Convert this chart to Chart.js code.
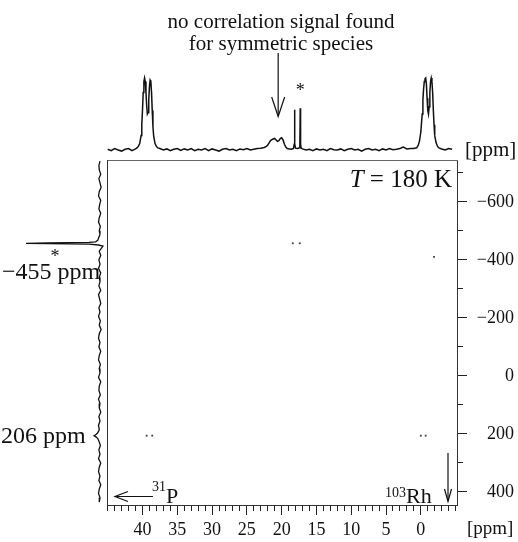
<!DOCTYPE html>
<html><head><meta charset="utf-8">
<script src="https://cdn.jsdelivr.net/npm/chart.js@4.4.0/dist/chart.umd.min.js"></script>
<style>html,body{margin:0;padding:0;background:#fff}#wrap{width:518px;height:542px;position:relative}</style>
</head><body><div id="wrap"><canvas id="c"></canvas></div>
<script>
// ---- 31P projection (top trace): chemical shift [ppm] and relative intensity ----
const topPpm = [45,44.5,44,43.5,43,42.5,42,41.5,41,40.8,
  40.6,40.4,40.2,40.1,40,39.9,39.8,39.7,39.6,39.5,
  39.4,39.3,39.2,39.1,39,38.9,38.8,38.7,38.6,38.5,
  38.4,38.2,38,37.8,37.5,37,36.5,36,35.5,35,
  34.5,34,33.5,33,32.5,32,31.5,31,30.5,30,
  29.5,29,28.5,28,27.5,27,26.5,26,25.5,25,
  24.5,24,23.5,23,22.5,22.2,22,21.8,21.6,21.3,
  21,20.8,20.6,20.4,20.2,20,19.8,19.6,19.4,19.2,
  18.9,18.6,18.3,18.2,18.15,18.1,18,17.7,17.45,17.38,
  17.33,17.28,17.2,17,16.5,16,15.5,15,14.5,14,
  13.5,13,12.5,12,11.5,11,10.5,10,9.5,9,
  8.5,8,7.5,7,6.5,6,5.5,5,4.5,4,
  3.5,3,2.7,2.5,2.3,2,1.5,1,0.6,0.4,
  0.2,0,-0.2,-0.3,-0.4,-0.5,-0.6,-0.7,-0.8,-0.9,
  -1,-1.1,-1.2,-1.3,-1.4,-1.5,-1.6,-1.7,-1.8,-1.9,
  -2,-2.2,-2.4,-2.6,-3,-3.5,-4,-4.5];
const topInt = [0.01,-0.01,0.02,0.0,-0.015,0.01,0.02,-0.01,0.015,0.03,
  0.05,0.09,0.2,0.35,0.55,0.8,0.95,1.0,0.95,0.8,
  0.62,0.5,0.52,0.7,0.88,0.97,0.95,0.8,0.55,0.33,
  0.2,0.09,0.05,0.03,0.02,0.0,0.015,-0.01,0.01,0.02,
  -0.005,0.015,0.0,0.02,-0.01,0.01,0.0,0.02,-0.01,0.015,
  0.0,-0.015,0.01,0.02,0.0,0.01,-0.01,0.015,0.005,0.02,
  0.0,0.01,0.02,0.025,0.035,0.05,0.07,0.1,0.13,0.15,
  0.16,0.14,0.12,0.13,0.16,0.17,0.14,0.08,0.04,0.02,
  0.015,0.01,0.02,0.08,0.56,0.08,0.025,0.02,0.03,0.08,
  0.58,0.08,0.025,0.015,0.0,0.01,-0.01,0.015,0.0,0.01,
  -0.01,0.02,0.005,0.0,0.015,-0.01,0.01,0.02,0.0,0.01,
  -0.015,0.01,0.02,0.0,0.01,-0.01,0.015,0.0,0.02,0.005,
  0.01,0.02,0.035,0.04,0.03,0.015,0.02,0.02,0.03,0.06,
  0.12,0.25,0.5,0.7,0.85,0.95,0.99,1.0,0.92,0.72,
  0.55,0.5,0.6,0.8,0.95,1.0,0.95,0.8,0.55,0.35,
  0.2,0.1,0.05,0.03,0.015,0.0,0.02,0.01];

// ---- 103Rh projection (left trace): chemical shift [ppm] and relative intensity ----
const leftRh = [-740,-725,-710,-695,-680,-665,-650,-635,-620,-605,-590,-575,
  -560,-545,-530,-515,-500,-487,-475,-467,-462,-460,
  -458,-457,-456,-454,-451,-447,-440,-430,-415,-400,
  -385,-370,-355,-340,-325,-310,-295,-280,-265,-250,
  -235,-220,-205,-190,-175,-160,-145,-130,-115,-100,
  -85,-70,-55,-40,-25,-10,5,20,35,50,
  65,80,95,110,125,140,155,170,185,196,
  201,206,211,216,228,240,255,270,285,300,
  315,330,345,360,375,390,405,420,435];
const leftInt = [0.0,0.015,0.01,-0.01,0.015,0.0,-0.015,0.01,0.02,-0.01,0.005,0.015,
  -0.01,0.01,0.02,-0.005,0.01,0.0,0.02,0.03,0.06,0.15,
  0.7,1.0,0.7,0.15,0.02,-0.04,-0.02,0.01,-0.01,0.015,
  0.0,0.02,-0.01,0.01,0.0,0.015,-0.01,0.02,0.005,-0.01,
  0.015,0.0,0.02,-0.005,0.01,-0.015,0.01,0.02,0.0,0.015,
  -0.01,0.01,0.02,-0.005,0.01,0.0,0.02,-0.01,0.01,0.015,
  -0.005,0.02,0.0,0.01,-0.01,0.015,0.0,0.02,0.01,0.03,
  0.05,0.08,0.05,0.03,0.01,-0.005,0.015,0.0,0.02,-0.01,
  0.01,0.02,0.0,0.015,-0.01,0.01,0.02,0.0,0.01];

// ---- 2D cross peaks (31P ppm, 103Rh ppm) ----
const crossP  = [18.4, 17.4, 39.4, 38.6, 0.0, -0.7, -1.9];
const crossRh = [-457, -457, 206, 206, 206, 206, -410];

// ---- axis tick labels ----
const xTickLabels = [40, 35, 30, 25, 20, 15, 10, 5, 0];
const yTickLabels = [-600, -400, -200, 0, 200, 400];

const SERIF = '"Liberation Serif", "DejaVu Serif", serif';
const INK = '#111';

const pts = (xs, ys) => xs.map((v, i) => ({x: v, y: ys[i]}));
const fmt = v => (v < 0 ? '\u2212' + Math.abs(v) : String(v));

const annot = {
  id: 'annot',
  afterDraw(chart) {
    const ctx = chart.ctx, xs = chart.scales.x;
    ctx.save();
    ctx.fillStyle = INK; ctx.strokeStyle = INK; ctx.lineWidth = 1.2;
    // title
    ctx.textAlign = 'center'; ctx.textBaseline = 'middle';
    ctx.font = '21px ' + SERIF;
    ctx.fillText('no correlation signal found', 281, 22);
    ctx.fillText('for symmetric species', 281, 44);
    // arrow to the symmetric species
    const ax = xs.getPixelForValue(20.5);
    ctx.beginPath(); ctx.moveTo(ax, 53); ctx.lineTo(ax, 116); ctx.stroke();
    ctx.beginPath(); ctx.moveTo(ax - 6.5, 97); ctx.lineTo(ax, 116.5); ctx.lineTo(ax + 6.5, 97); ctx.stroke();
    // asterisks
    ctx.textBaseline = 'alphabetic';
    ctx.font = '18px ' + SERIF;
    ctx.fillText('*', xs.getPixelForValue(17.33), 96);
    ctx.fillText('*', 55, 262);
    // [ppm] labels
    ctx.textAlign = 'left'; ctx.textBaseline = 'middle';
    ctx.font = '21px ' + SERIF;
    ctx.fillText('[ppm]', 465, 150);
    ctx.font = '19px ' + SERIF;
    ctx.fillText('[ppm]', 467, 529);
    // Rh shift labels
    ctx.textBaseline = 'alphabetic';
    ctx.font = '24px ' + SERIF;
    ctx.fillText('\u2212455 ppm', 2, 279);
    ctx.fillText('206 ppm', 1, 443);
    // T = 180 K
    ctx.font = 'italic 25px ' + SERIF;
    const wT = ctx.measureText('T').width;
    ctx.font = '25px ' + SERIF;
    const rest = ' = 180 K';
    const wR = ctx.measureText(rest).width;
    const tx = 452 - wT - wR;
    ctx.font = 'italic 25px ' + SERIF; ctx.fillText('T', tx, 187);
    ctx.font = '25px ' + SERIF; ctx.fillText(rest, tx + wT, 187);
    // 31P arrow
    ctx.beginPath(); ctx.moveTo(115, 496.5); ctx.lineTo(153, 496.5); ctx.stroke();
    ctx.beginPath(); ctx.moveTo(128, 491.5); ctx.lineTo(115, 496.5); ctx.lineTo(128, 501.5); ctx.stroke();
    ctx.font = '14px ' + SERIF; ctx.fillText('31', 152, 491);
    ctx.font = '22px ' + SERIF; ctx.fillText('P', 166, 503);
    // 103Rh arrow
    ctx.textAlign = 'right';
    ctx.font = '14px ' + SERIF; ctx.fillText('103', 406, 497);
    ctx.textAlign = 'left';
    ctx.font = '22px ' + SERIF; ctx.fillText('Rh', 406, 503);
    ctx.beginPath(); ctx.moveTo(448, 453); ctx.lineTo(448, 501); ctx.stroke();
    ctx.beginPath(); ctx.moveTo(444.5, 489); ctx.lineTo(448, 501.5); ctx.lineTo(451.5, 489); ctx.stroke();
    ctx.restore();
  }
};

const range = (a, b) => { const r = []; for (let v = a; v <= b; v++) r.push(v); return r; };

new Chart(document.getElementById('c'), {
  type: 'scatter',
  data: {
    datasets: [
      { data: pts(topPpm, topInt), xAxisID: 'x', yAxisID: 'yTop', showLine: true,
        pointRadius: 0, borderColor: INK, borderWidth: 1.5, clip: false, tension: 0 },
      { data: pts(leftInt, leftRh), xAxisID: 'xLeft', yAxisID: 'y', showLine: true,
        pointRadius: 0, borderColor: INK, borderWidth: 1.3, clip: false, tension: 0 },
      { data: pts(crossP, crossRh), xAxisID: 'x', yAxisID: 'y', showLine: false,
        pointStyle: 'rect', pointRadius: 1.3, pointBorderWidth: 0,
        backgroundColor: '#444', borderColor: '#444' }
    ]
  },
  plugins: [annot],
  options: {
    responsive: true, maintainAspectRatio: false, animation: false, events: [],
    layout: { padding: { left: 107, top: 160, right: 4, bottom: 0 } },
    plugins: { legend: { display: false }, tooltip: { enabled: false }, title: { display: false } },
    scales: {
      x: {
        type: 'linear', position: 'bottom', min: -5.2, max: 45.1, reverse: true, weight: 0,
        afterBuildTicks: s => { s.ticks = range(-5, 45).map(v => ({value: v})); },
        afterFit: s => { s.height = 37; },
        ticks: { autoSkip: false, maxRotation: 0, padding: 4, color: INK,
          font: { family: SERIF, size: 18 },
          callback: v => (xTickLabels.includes(v) ? String(v) : '') },
        grid: { drawOnChartArea: false, drawTicks: true, tickLength: 10, tickColor: '#222', tickWidth: 1,
          tickBorderDash: c => (c.tick && xTickLabels.includes(c.tick.value) ? [] : [5, 30]) },
        border: { display: true, color: '#333', width: 1 }
      },
      y: {
        type: 'linear', position: 'right', min: -744, max: 445, reverse: true,
        afterBuildTicks: s => { s.ticks = range(-7, 4).map(v => ({value: v * 100})); },
        afterFit: s => { s.width = 57; },
        ticks: { autoSkip: false, padding: 4, color: INK, crossAlign: 'far',
          font: { family: SERIF, size: 18 },
          callback: v => (yTickLabels.includes(v) ? fmt(v) : '') },
        grid: { drawOnChartArea: false, drawTicks: true, tickLength: 10, tickColor: '#222', tickWidth: 1,
          tickBorderDash: c => (c.tick && yTickLabels.includes(c.tick.value) ? [] : [5, 30]) },
        border: { display: true, color: '#333', width: 1 }
      },
      xTopB: {
        type: 'linear', position: 'top', min: -5.2, max: 45.1, reverse: true,
        afterFit: s => { s.height = 0; },
        ticks: { display: false },
        grid: { drawOnChartArea: false, drawTicks: false },
        border: { display: true, color: '#666', width: 1 }
      },
      yLeftB: {
        type: 'linear', position: 'left', min: -744, max: 445, reverse: true,
        afterFit: s => { s.width = 0; },
        ticks: { display: false },
        grid: { drawOnChartArea: false, drawTicks: false },
        border: { display: true, color: '#333', width: 1 }
      },
      yTop: { type: 'linear', display: false, min: -4.9306, max: -0.1389 },
      xLeft: { type: 'linear', display: false, min: -4.8243, max: -0.0946, reverse: true }
    }
  }
});
</script>
</body></html>
